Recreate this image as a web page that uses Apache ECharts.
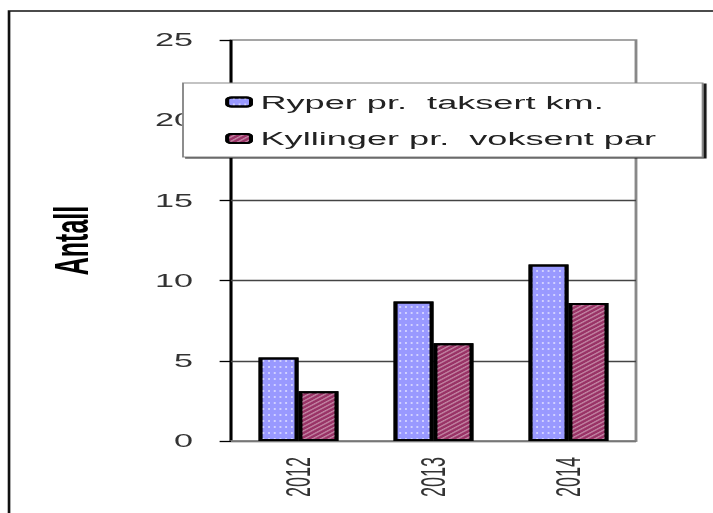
<!DOCTYPE html>
<html>
<head>
<meta charset="utf-8">
<script src="https://cdn.jsdelivr.net/npm/echarts@6/dist/echarts.min.js"></script>
<style>
    html, body { margin: 0; padding: 0; background: #fff; overflow: hidden; }
    /* the source picture is stretched wide, so draw narrow and stretch the svg */
    #chart { width: 375px; height: 513px; transform: scaleX(1.90133); transform-origin: 0 0; }
</style>
</head>
<body>
<div id="chart"></div>
<script>
// data
var years = ['2012', '2013', '2014']
var ryper = [5.2, 8.7, 11.0]          // Ryper pr. taksert km.
var kyllinger = [3.1, 6.1, 8.6]       // Kyllinger pr. voksent par
var yTicks = { min: 0, max: 25, interval: 5 }

var font = 'Liberation Sans, Arial, sans-serif'
var gridLeft = 121.5, gridTop = 40, gridBottom = 72
var legendTop = 83, legendBottom = 157.5

function createChart() {
    var chart = echarts.init(document.getElementById('chart'), null, { renderer: 'svg' })
    var option = {
        animation: false,
        backgroundColor: '#fff',
        grid: {
            left: gridLeft,
            right: 40.5,
            top: gridTop,
            bottom: gridBottom,
            show: true,
            borderColor: '#888',
            borderWidth: 1.5
        },
        legend: {
            orient: 'vertical',
            left: 96.25,
            top: legendTop,
            z: 20,
            padding: [9, 24.5, 8.5, 22.25],
            backgroundColor: '#fff',
            borderColor: '#888',
            borderWidth: 1,
            shadowColor: 'rgba(0,0,0,0.9)',
            shadowOffsetX: 1.6,
            shadowOffsetY: 1,
            shadowBlur: 0,
            itemGap: 16.5,
            itemWidth: 12.5,
            itemHeight: 9,
            textStyle: { fontFamily: font, fontSize: 19, color: '#222', lineHeight: 20 },
            data: ['Ryper pr.  taksert km.', 'Kyllinger pr.  voksent par']
        },
        graphic: [
            {   // outer frame, top and left only
                type: 'polyline',
                z: 20,
                shape: { points: [[4.75, 513], [4.75, 11], [375, 11]] },
                style: { fill: null, stroke: '#111', lineWidth: 1.4 }
            },
            {   // black y axis line, in two pieces so it stops at the legend box
                type: 'line',
                shape: { x1: gridLeft, y1: gridTop, x2: gridLeft, y2: legendTop },
                style: { stroke: '#000', lineWidth: 1.5 }
            },
            {
                type: 'line',
                shape: { x1: gridLeft, y1: legendBottom, x2: gridLeft, y2: 513 - gridBottom },
                style: { stroke: '#000', lineWidth: 1.5 }
            }
        ],
        xAxis: {
            type: 'category',
            data: years,
            axisLine: { lineStyle: { color: '#888', width: 1.5 } },
            axisTick: { length: 8, lineStyle: { color: '#000', width: 1.5 } },
            axisLabel: { rotate: 90, margin: 16, fontFamily: font, fontSize: 18, color: '#333' }
        },
        yAxis: {
            type: 'value',
            min: yTicks.min,
            max: yTicks.max,
            interval: yTicks.interval,
            name: 'Antall',
            nameLocation: 'middle',
            nameGap: 71.5,
            nameTextStyle: { fontFamily: font, fontSize: 25, fontWeight: 'bold', color: '#000' },
            axisLine: { show: false },
            axisTick: { show: true, length: 6, lineStyle: { color: '#000', width: 1.3 } },
            axisLabel: { margin: 20, fontFamily: font, fontSize: 18, color: '#333' },
            splitLine: { showMaxLine: false, lineStyle: { color: '#444', width: 1.3 } }
        },
        series: [
            {
                name: 'Ryper pr.  taksert km.',
                type: 'bar',
                barWidth: 21,
                barGap: '0%',
                data: ryper,
                itemStyle: {
                    color: '#9999ff',
                    borderColor: '#000',
                    borderWidth: 2,
                    decal: {
                        symbol: 'rect',
                        symbolSize: 1,
                        color: 'rgba(255,255,255,0.55)',
                        dashArrayX: [1, 2],
                        dashArrayY: [2, 4]
                    }
                }
            },
            {
                name: 'Kyllinger pr.  voksent par',
                type: 'bar',
                barWidth: 21,
                data: kyllinger,
                itemStyle: {
                    color: '#993366',
                    borderColor: '#000',
                    borderWidth: 2,
                    decal: {
                        symbol: 'rect',
                        symbolSize: 1,
                        color: 'rgba(255,255,255,0.4)',
                        dashArrayX: [1, 0],
                        dashArrayY: [1, 2],
                        rotation: -Math.PI / 4
                    }
                }
            }
        ]
    }
    chart.setOption(option)
}

createChart()
</script>
</body>
</html>
